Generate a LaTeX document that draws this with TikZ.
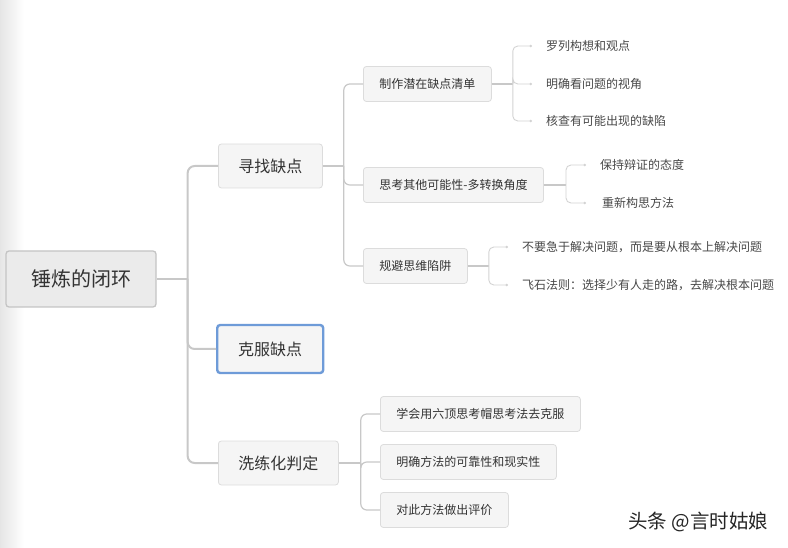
\documentclass[tikz,border=0pt]{standalone}
\usepackage{fontspec}
\setmainfont{Noto Sans CJK SC}
\usepackage{tikz}
\usetikzlibrary{positioning,arrows.meta}
\definecolor{linegray}{HTML}{C8C8C8}
\definecolor{boxfill}{HTML}{F5F5F5}
\definecolor{boxline}{HTML}{DCDCDC}
\definecolor{rootfill}{HTML}{EBEBEB}
\definecolor{rootline}{HTML}{C4C4C4}
\definecolor{selblue}{HTML}{6E9BD8}
\definecolor{txt}{HTML}{333333}

\begin{document}
\begin{tikzpicture}[x=1pt,y=-1pt,
    base/.style={draw=boxline, fill=boxfill, rounded corners=3pt, text=txt, line width=0.8pt},
    root/.style={base, draw=rootline, fill=rootfill, line width=1.3pt, font=\fontsize{20}{24}\selectfont, minimum width=150pt, minimum height=56pt},
    topic/.style={base, anchor=west, font=\fontsize{16}{19}\selectfont, inner xsep=20pt, minimum height=44pt},
    sub/.style={base, anchor=west, font=\fontsize{12}{14}\selectfont, inner xsep=16pt, minimum height=35pt},
    leaf/.style={anchor=west, text=txt!90, font=\fontsize{12}{14}\selectfont, inner sep=0pt},
    link/.style={draw=linegray, line width=2pt, rounded corners=7pt},
    branch/.style={draw=linegray, line width=1.2pt, rounded corners=6pt},
    twig/.style={draw=linegray!80, line width=0.9pt, rounded corners=5pt, -{Circle[length=2.5pt]}}]
    \useasboundingbox (0,0) rectangle (788,548);
    \shade[left color=black!10, right color=white] (0,0) rectangle (24,548);

    \node[root] (r) at (81,279) {锤炼的闭环};

    \node[topic] (t1) at (218,166) {寻找缺点};
    \node[topic, draw=selblue, line width=2.4pt, minimum height=48pt, inner xsep=21pt] (t2) at (216,349) {克服缺点};
    \node[topic] (t3) at (218,463) {洗练化判定};

    \node[sub] (s1) at (363,84) {制作潜在缺点清单};
    \node[sub] (s2) at (363,185) {思考其他可能性-多转换角度};
    \node[sub] (s3) at (363,266) {规避思维陷阱};

    \node[leaf] (l1) at (546,46) {罗列构想和观点};
    \node[leaf] (l2) at (546,84) {明确看问题的视角};
    \node[leaf] (l3) at (546,121) {核查有可能出现的缺陷};
    \node[leaf] (l4) at (600,165) {保持辩证的态度};
    \node[leaf] (l5) at (602,203) {重新构思方法};
    \node[leaf] (l6) at (522,247) {不要急于解决问题，而是要从根本上解决问题};
    \node[leaf] (l7) at (522,285) {飞石法则：选择少有人走的路，去解决根本问题};

    \node[sub] (m1) at (380,414) {学会用六顶思考帽思考法去克服};
    \node[sub] (m2) at (380,462) {明确方法的可靠性和现实性};
    \node[sub] (m3) at (380,510) {对此方法做出评价};

    \coordinate (r-j) at ([xshift=31pt]r.east);
    \coordinate (t1-j) at ([xshift=21pt]t1.east);
    \coordinate (t3-j) at ([xshift=22pt]t3.east);
    \coordinate (s1-j) at ([xshift=21pt]s1.east);
    \coordinate (s2-j) at ([xshift=22pt]s2.east);
    \coordinate (s3-j) at ([xshift=21pt]s3.east);

    \draw[link] (r) -- (r-j);
    \draw[link] (r-j) |- (t1.west);
    \draw[link] (r-j) |- (t2.west);
    \draw[link] (r-j) |- (t3.west);

    \draw[branch] (t1) -- (t1-j);
    \draw[branch] (t1-j) |- (s1.west);
    \draw[branch] (t1-j) |- (s2.west);
    \draw[branch] (t1-j) |- (s3.west);

    \draw[branch] (t3) -- (t3-j);
    \draw[branch] (t3-j) |- (m1.west);
    \draw[branch] (t3-j) |- (m2.west);
    \draw[branch] (t3-j) |- (m3.west);

    \draw[branch] (s1) -- (s1-j);
    \draw[twig] (s1-j) |- ([xshift=-14pt]l1.west);
    \draw[twig] (s1-j) |- ([xshift=-14pt]l2.west);
    \draw[twig] (s1-j) |- ([xshift=-14pt]l3.west);

    \draw[branch] (s2) -- (s2-j);
    \draw[twig] (s2-j) |- ([xshift=-14pt]l4.west);
    \draw[twig] (s2-j) |- ([xshift=-16pt]l5.west);

    \draw[branch] (s3) -- (s3-j);
    \draw[twig] (s3-j) |- ([xshift=-14pt]l6.west);
    \draw[twig] (s3-j) |- ([xshift=-14pt]l7.west);

    \node[text=black!85, font=\fontsize{19.5}{23}\selectfont, anchor=west, inner sep=0pt] (wm) at (628,522) {头条 @言时姑娘};
\end{tikzpicture}
\end{document}
